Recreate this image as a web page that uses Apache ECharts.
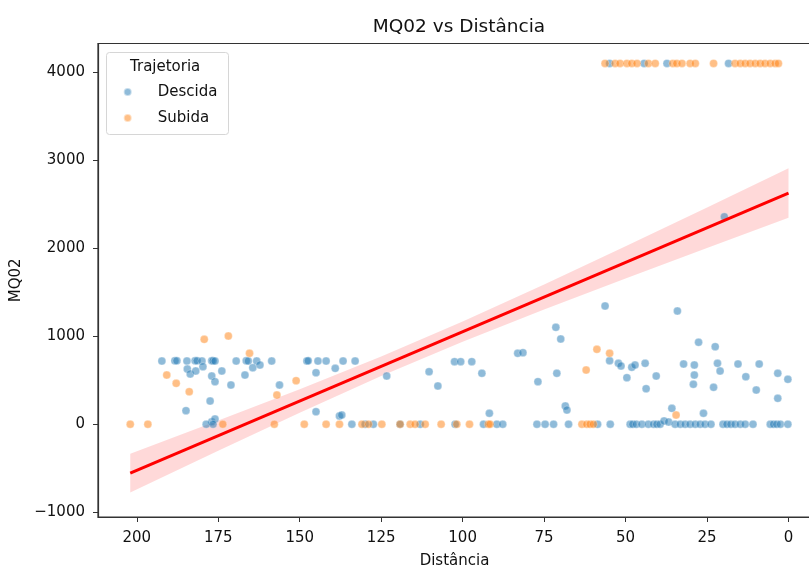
<!DOCTYPE html>
<html>
<head>
<meta charset="utf-8">
<script src="https://cdn.jsdelivr.net/npm/echarts@6/dist/echarts.min.js"></script>
<style>
  html, body { margin: 0; padding: 0; background: #fff; }
  #chart { width: 809px; height: 568px; }
</style>
</head>
<body>
<div id="chart"></div>
<script>
// Descida (blue) points
var descidaX = [
  54.9, 44.3, 37.3, 18.4, 19.7,
  192.3, 188.3, 187.7, 184.6, 182.1, 181.5, 180.0, 177.0, 176.6, 176.0, 169.5, 166.4, 165.8, 163.2, 158.6,
  147.8, 147.4, 144.4, 141.9, 136.7, 133.0, 102.5, 100.6, 97.2,
  184.5, 183.6, 181.9, 179.7, 177.0, 176.0, 173.9, 171.1, 166.8, 164.4, 162.2, 156.2, 145.0, 139.1,
  184.9, 177.5, 177.0, 176.0, 178.7, 176.6, 145.0, 137.8,
  123.3, 110.3, 107.6, 94.1, 91.8, 83.1, 81.5, 71.4, 69.9, 76.9, 71.1, 137.1, 68.5, 68.0,
  56.3, 34.1, 27.6, 22.5, 54.9, 52.2, 51.4, 48.1, 47.1, 49.6, 44.0, 40.6, 43.7, 32.2, 28.9, 28.9, 29.2,
  21.8, 21.0, 23.0, 15.5, 13.1, 9.0, 9.9, 3.3, 0.2, 3.3, 35.8, 26.1,
  134.0, 129.9, 127.4, 119.2, 113.0, 102.3, 93.6, 89.5, 87.7, 77.2, 74.7, 72.1, 67.5, 58.6, 54.7,
  48.6, 47.8, 46.7, 45.0, 43.0, 41.4, 40.4, 39.4, 38.2, 36.8, 34.8, 33.2, 31.7, 30.2, 28.6, 27.1,
  25.6, 23.8, 20.1, 18.9, 17.7, 16.4, 14.8, 13.3, 10.9, 5.6, 4.6, 3.6, 2.5, 0.2
];
var descidaY = [
  4095, 4095, 4095, 4095, 2355,
  717, 720, 720, 717, 720, 720, 717, 720, 720, 717, 717, 720, 717, 717, 717,
  717, 720, 717, 717, 717, 717, 710, 710, 710,
  627, 570, 604, 653, 547, 483, 604, 445, 558, 641, 672, 445, 585, 634,
  154, 263, 28, 59, 0, 0, 142, 93,
  547, 596, 434, 578, 124, 805, 812, 1100, 967, 483, 578, 104, 207, 161,
  1342, 1285, 930, 880, 721, 691, 661, 646, 672, 528, 691, 547, 403, 683, 672, 558, 453,
  691, 604, 419, 683, 539, 683, 388, 578, 510, 294, 180, 124,
  0, 0, 0, 0, 0, 0, 0, 0, 0, 0, 0, 0, 0, 0, 0,
  0, 0, 0, 0, 0, 0, 0, 0, 37, 25, 0, 0, 0, 0, 0, 0,
  0, 0, 0, 0, 0, 0, 0, 0, 0, 0, 0, 0, 0, 0
];

// Subida (orange) points
var subidaX = [
  56.3, 53.2, 51.7, 49.6, 48.1, 46.5, 43.0, 40.9, 35.5, 34.3, 32.7, 30.2, 28.6, 23.0,
  16.4, 14.8, 13.3, 11.8, 10.2, 8.7, 7.2, 5.6, 4.1, 3.1,
  179.3, 171.9, 165.4, 190.8, 187.9, 183.9, 151.1, 157.0, 58.8, 54.9, 62.1, 34.5,
  202.0, 196.6, 173.6, 157.8, 148.6, 141.9, 137.8, 130.9, 128.9, 124.8, 119.2, 116.1, 114.6,
  111.5, 106.6, 101.8, 97.9, 92.1, 91.6, 63.4, 61.9, 60.9, 59.9
];
var subidaY = [
  4095, 4095, 4095, 4095, 4095, 4095, 4095, 4095, 4095, 4095, 4095, 4095, 4095, 4095,
  4095, 4095, 4095, 4095, 4095, 4095, 4095, 4095, 4095, 4095,
  963, 1001, 805, 558, 464, 369, 494, 331, 850, 805, 615, 104,
  0, 0, 0, 0, 0, 0, 0, 0, 0, 0, 0, 0, 0,
  0, 0, 0, 0, 0, 0, 0, 0, 0, 0
];

// regression line and its confidence band
var lineX = [202, 0];
var lineY = [-554, 2624];
var bandX = [202, 175, 150, 125, 100, 75, 50, 25, 0];
var bandLow = [-774, -300, 131, 546, 935, 1301, 1655, 2001, 2344];
var bandHigh = [-334, 42, 397, 770, 1167, 1587, 2021, 2461, 2904];

// tick labels
var xTicks = [0, 25, 50, 75, 100, 125, 150, 175, 200];
var yTicks = [-1000, 0, 1000, 2000, 3000, 4000];

function zip(xs, ys) {
  var out = [];
  for (var i = 0; i < xs.length; i++) {
    out.push([xs[i], ys[i]]);
  }
  return out;
}

var FONT = 'DejaVu Sans';
var chart = echarts.init(document.getElementById('chart'), null, { renderer: 'canvas' });

chart.setOption({
  animation: false,
  backgroundColor: '#fff',
  textStyle: { fontFamily: FONT },
  title: {
    text: 'MQ02 vs Distância',
    left: 459,
    top: 18,
    padding: 0,
    textAlign: 'center',
    textStyle: { fontFamily: FONT, fontSize: 18.5, fontWeight: 'normal', color: '#111' }
  },
  grid: {
    left: 98,
    right: -2,
    top: 43.5,
    bottom: 51,
    outerBoundsMode: 'none',
    containLabel: false,
    show: true,
    borderColor: '#333',
    borderWidth: 1.2,
    backgroundColor: 'transparent'
  },
  legend: {
    orient: 'vertical',
    left: 122.7,
    top: 83,
    padding: 0,
    z: 6,
    itemWidth: 10,
    itemHeight: 8,
    itemGap: 8,
    data: ['Descida', 'Subida'],
    textStyle: { fontFamily: FONT, fontSize: 15, lineHeight: 18, color: '#111', padding: [0, 0, 0, 20] }
  },
  graphic: [
    {
      type: 'rect',
      z: 4,
      shape: { x: 106.5, y: 52.5, width: 122, height: 82, r: 3 },
      style: { fill: 'rgba(255,255,255,0.8)', stroke: '#d6d6d6', lineWidth: 1 }
    },
    {
      type: 'text',
      z: 5,
      left: 130,
      top: 60,
      style: { text: 'Trajetoria', font: '15px "DejaVu Sans"', fill: '#111' }
    }
  ],
  xAxis: {
    type: 'value',
    inverse: true,
    min: -6.9,
    max: 211.9,
    name: 'Distância',
    nameLocation: 'middle',
    nameGap: 37,
    nameTextStyle: { fontFamily: FONT, fontSize: 15, color: '#111' },
    axisLine: { show: true, onZero: false, lineStyle: { color: '#333', width: 1.2 } },
    splitLine: { show: false },
    axisTick: { show: true, inside: false, length: 5, customValues: xTicks, lineStyle: { color: '#333' } },
    axisLabel: { customValues: xTicks, margin: 14, fontFamily: FONT, fontSize: 15, color: '#111' }
  },
  yAxis: {
    type: 'value',
    min: -1053,
    max: 4321,
    name: 'MQ02',
    nameLocation: 'middle',
    nameGap: 67,
    nameTextStyle: { fontFamily: FONT, fontSize: 15, color: '#111' },
    axisLine: { show: true, onZero: false, lineStyle: { color: '#333', width: 1.2 } },
    splitLine: { show: false },
    axisTick: { show: true, inside: false, length: 5, customValues: yTicks, lineStyle: { color: '#333' } },
    axisLabel: {
      customValues: yTicks,
      margin: 13,
      fontFamily: FONT,
      fontSize: 15,
      color: '#111',
      formatter: function (v) { return String(v).replace('-', '\u2212'); }
    }
  },
  series: [
    {
      name: 'Descida',
      type: 'scatter',
      symbolSize: 8,
      data: zip(descidaX, descidaY),
      itemStyle: { color: '#1f77b4', opacity: 0.5, borderColor: '#fff', borderWidth: 0.6 }
    },
    {
      name: 'Subida',
      type: 'scatter',
      symbolSize: 8,
      data: zip(subidaX, subidaY),
      itemStyle: { color: '#ff7f0e', opacity: 0.5, borderColor: '#fff', borderWidth: 0.6 }
    },
    {
      // confidence band drawn as one polygon through the axes
      name: 'band',
      type: 'custom',
      silent: true,
      data: [[bandX[0], bandLow[0]]],
      renderItem: function (params, api) {
        var pts = [];
        for (var i = 0; i < bandX.length; i++) {
          pts.push(api.coord([bandX[i], bandHigh[i]]));
        }
        for (var j = bandX.length - 1; j >= 0; j--) {
          pts.push(api.coord([bandX[j], bandLow[j]]));
        }
        return {
          type: 'polygon',
          shape: { points: pts },
          style: { fill: 'rgba(255,0,0,0.15)' }
        };
      }
    },
    {
      name: 'regressao',
      type: 'line',
      symbol: 'none',
      silent: true,
      data: zip(lineX, lineY),
      lineStyle: { color: '#ff0000', width: 3 }
    }
  ]
});
</script>
</body>
</html>
